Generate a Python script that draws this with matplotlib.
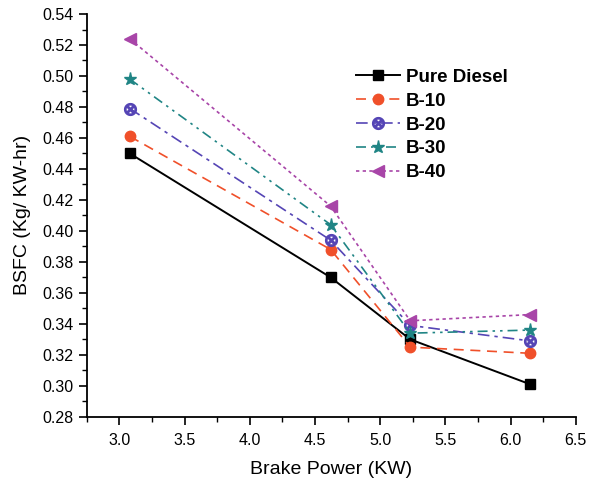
import matplotlib
matplotlib.use("Agg")
import matplotlib.pyplot as plt
from matplotlib.ticker import MultipleLocator, FormatStrFormatter

plt.rcParams['font.family'] = ['Liberation Sans', 'DejaVu Sans']

brake_power = [3.08, 4.62, 5.23, 6.15]
pure_diesel = [0.450, 0.370, 0.330, 0.301]
b10 = [0.461, 0.388, 0.325, 0.321]
b20 = [0.479, 0.394, 0.339, 0.329]
b30 = [0.498, 0.404, 0.334, 0.336]
b40 = [0.524, 0.416, 0.342, 0.346]

fig = plt.figure(figsize=(5.9, 4.83), dpi=100)
ax = fig.add_axes([0.147, 0.137, 0.829, 0.834])

ax.plot(brake_power, pure_diesel, color='black', linestyle='-', lw=1.4,
        marker='s', ms=6.5, label='Pure Diesel')
ax.plot(brake_power, b10, color='#F0502A', linestyle=(0, (6, 4)), lw=1.2,
        marker='o', ms=7.5, label='B-10')
ax.plot(brake_power, b20, color='#5545B5', linestyle=(0, (7, 3, 2, 3)), lw=1.2,
        marker=r'$\otimes$', ms=8.5, label='B-20')
ax.plot(brake_power, b30, color='#208585', linestyle=(0, (6, 3, 1.5, 3, 1.5, 3)), lw=1.2,
        marker='*', ms=9.5, label='B-30')
ax.plot(brake_power, b40, color='#A845A8', linestyle=(0, (2, 2)), lw=1.2,
        marker='<', ms=8.5, label='B-40')

ax.set_xlim(2.75, 6.5)
ax.set_ylim(0.28, 0.54)
ax.xaxis.set_major_locator(MultipleLocator(0.5))
ax.xaxis.set_minor_locator(MultipleLocator(0.25))
ax.yaxis.set_major_locator(MultipleLocator(0.02))
ax.yaxis.set_minor_locator(MultipleLocator(0.01))
ax.xaxis.set_major_formatter(FormatStrFormatter('%.1f'))
ax.yaxis.set_major_formatter(FormatStrFormatter('%.2f'))

for s in ['top', 'right']:
    ax.spines[s].set_visible(False)
for s in ['left', 'bottom']:
    ax.spines[s].set_linewidth(1.3)

ax.tick_params(which='major', direction='out', length=6, width=1.2, labelsize=11.5)
ax.tick_params(which='minor', direction='out', length=3.5, width=1.0)
ax.tick_params(axis='x', pad=6)

ax.set_xlabel('Brake Power (KW)', fontsize=14, labelpad=9)
ax.set_ylabel('BSFC (Kg/ KW-hr)', fontsize=14, labelpad=8)

leg = ax.legend(loc='upper left', bbox_to_anchor=(0.535, 0.883), frameon=False,
                fontsize=13.5, handlelength=2.35, labelspacing=0.36, handletextpad=0.3,
                borderaxespad=0)
for t in leg.get_texts():
    t.set_fontweight('bold')

fig.savefig('out.png', dpi=100)
